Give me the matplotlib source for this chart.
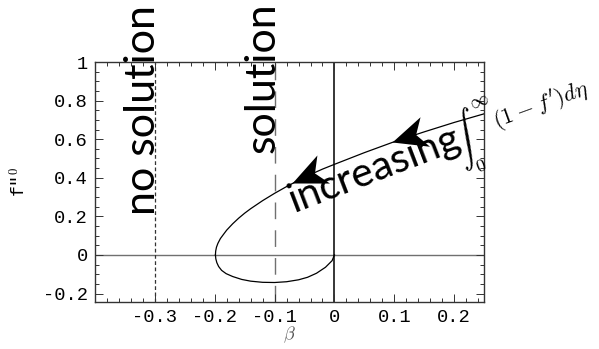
import numpy as np
import matplotlib
matplotlib.use("Agg")
import matplotlib.pyplot as plt
from matplotlib.path import Path
from matplotlib.ticker import MultipleLocator, FuncFormatter

plt.rcParams['mathtext.fontset'] = 'cm'
plt.rcParams['axes.unicode_minus'] = False

# Falkner-Skan wall shear f''(0) against the pressure-gradient parameter beta
beta_upper = [-0.19884, -0.1984, -0.1971, -0.1947, -0.1905, -0.185, -0.18, -0.17, -0.16,
              -0.15, -0.14, -0.12, -0.10, -0.08, -0.06, -0.04, -0.02, 0.0, 0.05, 0.10,
              0.15, 0.20, 0.25]
fpp_upper = [0.0, 0.02, 0.04, 0.06, 0.085, 0.108, 0.1286, 0.1615, 0.1905,
             0.2164, 0.2395, 0.2814, 0.3193, 0.3543, 0.3868, 0.4171, 0.4448, 0.4696, 0.5302, 0.587,
             0.638, 0.6867, 0.7315]

# reverse-flow (lower) branch
beta_lower = [-0.19884, -0.1982, -0.1965, -0.1935, -0.1885, -0.181, -0.17, -0.155, -0.14,
              -0.12, -0.10, -0.08, -0.06, -0.045, -0.03, -0.015, -0.004, 0.0]
fpp_lower = [0.0, -0.02, -0.04, -0.06, -0.08, -0.097, -0.112, -0.127, -0.136,
             -0.142, -0.143, -0.139, -0.129, -0.116, -0.095, -0.064, -0.03, 0.0]

xticks = [-0.3, -0.2, -0.1, 0, 0.1, 0.2]
yticks = [-0.2, 0, 0.2, 0.4, 0.6, 0.8, 1]

# arrow tips on the upper branch and a point further back along it
arrow_tips = [(0.0967, 0.585), (-0.0717, 0.372)]
arrow_tails = [(0.15, 0.638), (-0.03, 0.43)]

fig = plt.figure(figsize=(5.99, 3.49), dpi=100)
ax = fig.add_axes([0.1586, 0.1347, 0.8082 - 0.1586, 0.8223 - 0.1347])

ax.axhline(0, color='#707070', lw=1.0, zorder=1)
ax.axvline(0, color='black', lw=1.1, zorder=1)
ax.axvline(-0.3, color='#333333', lw=0.9, ls=(0, (3, 2)), zorder=1)
ax.axvline(-0.1, color='#707070', lw=1.0, ls=(0, (12, 8)), zorder=1)

ax.plot(beta_upper, fpp_upper, color='black', lw=0.9, zorder=3)
ax.plot(beta_lower, fpp_lower, color='black', lw=0.9, zorder=3)

ax.set_xlim(-0.4, 0.25)
ax.set_ylim(-0.244, 1.0)

# notched arrowhead, tip at the origin, pointing along +x
head = np.array([(0, 0), (-1.0, 0.45), (-0.72, 0), (-1.0, -0.45), (0, 0)])
for tip, tail in zip(arrow_tips, arrow_tails):
    p0 = ax.transData.transform(tail)
    p1 = ax.transData.transform(tip)
    ang = np.arctan2(p1[1] - p0[1], p1[0] - p0[0])
    rot = np.array([[np.cos(ang), -np.sin(ang)], [np.sin(ang), np.cos(ang)]])
    verts = head @ rot.T
    codes = [Path.MOVETO, Path.LINETO, Path.LINETO, Path.LINETO, Path.CLOSEPOLY]
    ax.plot(tip[0], tip[1], marker=Path(verts, codes), markersize=54,
            color='black', mew=0, zorder=4)

ax.xaxis.set_major_locator(plt.FixedLocator(xticks))
ax.yaxis.set_major_locator(plt.FixedLocator(yticks))
ax.xaxis.set_minor_locator(MultipleLocator(0.02))
ax.yaxis.set_minor_locator(MultipleLocator(0.05))
fmt = FuncFormatter(lambda v, p: '%g' % round(v, 3))
ax.xaxis.set_major_formatter(fmt)
ax.yaxis.set_major_formatter(fmt)
ax.tick_params(which='both', direction='in', top=True, right=True, width=0.7, color='#333333')
ax.tick_params(which='major', length=6, pad=5)
ax.tick_params(which='minor', length=3)
for lab in ax.get_xticklabels() + ax.get_yticklabels():
    lab.set_family('Liberation Mono')
    lab.set_fontsize(13.5)
for s in ax.spines.values():
    s.set_color('#333333')
    s.set_linewidth(1.0)

ax.set_xlabel(r'$\beta$', fontsize=13, color='#555555', labelpad=-1)
ax.set_ylabel(r'f"$^{\mathtt{0}}$', family='Liberation Mono', fontsize=13, labelpad=10)

big = dict(family='Lato', fontsize=31, color='black', rotation_mode='anchor',
           ha='left', va='baseline', clip_on=False, zorder=5)
ax.text(-0.3, 0.2076, 'no solution', rotation=90, **big)
ax.text(-0.1, 0.529, 'solution', rotation=90, **big)
big['fontsize'] = 29.5
ax.text(-0.068, 0.222, 'increasing', rotation=21, **big)
ax.text(0.205, 0.53, r'$\int_0^\infty$', rotation=21, fontsize=19,
        rotation_mode='anchor', ha='left', va='baseline', clip_on=False)
ax.text(0.27, 0.655, r"$(1-f')d\eta$", rotation=20, fontsize=16.5,
        rotation_mode='anchor', ha='left', va='baseline', clip_on=False)

fig.savefig('out.png', dpi=100)
